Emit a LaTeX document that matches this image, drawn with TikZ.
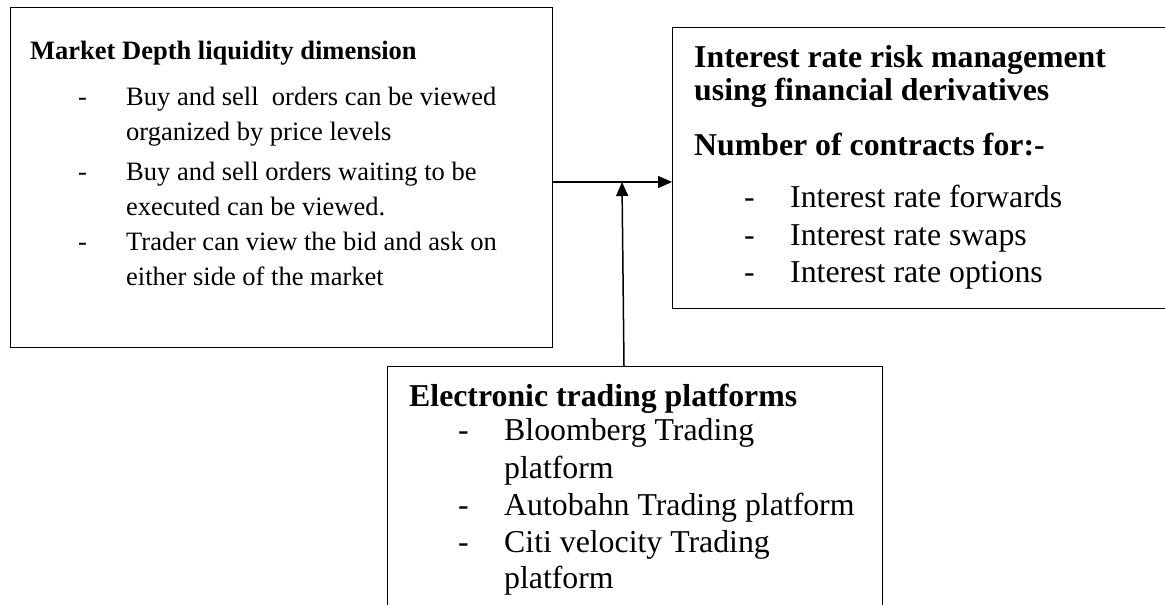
\documentclass[tikz,border=0pt]{standalone}
\usepackage{fontspec}
\setmainfont{Liberation Serif}
\usetikzlibrary{arrows.meta}
\newcommand\fsDepth{\fontsize{26.5}{31}\selectfont}
\newcommand\fsWide{\fontsize{31.8}{37}\selectfont}
\begin{document}
\begin{tikzpicture}[x=1pt,y=-1pt,
  panel/.style={draw=black, line width=1.3pt, inner sep=0pt, anchor=north west},
  txt/.style={inner sep=0pt, anchor=base west},
  dtxt/.style={txt, font=\fsDepth},
  wtxt/.style={txt, font=\fsWide},
  link/.style={draw=black, line width=1.5pt, -{Triangle[length=14pt,width=12pt]}}
]
\useasboundingbox (0,0) rectangle (1165,605);
\fill[white] (0,0) rectangle (1165,605);
\clip (0,0) rectangle (1165,605);

% boxes
\node[panel, minimum width=542pt, minimum height=340pt] (depth) at (10,7) {};
\node[panel, minimum width=520pt, minimum height=281pt] (risk) at (672,27) {};
\node[panel, minimum width=495pt, minimum height=270pt] (platforms) at (387,366) {};

% market depth box
\node[dtxt, font=\fsDepth\bfseries] (dT) at (30,59) {Market Depth liquidity dimension};
\node[dtxt] (dD1) at (78,105) {-};
\node[dtxt] (d1a) at (126,105) {Buy and sell \ orders can be viewed};
\node[dtxt] (d1b) at (126,140) {organized by price levels};
\node[dtxt] (dD2) at (78,180) {-};
\node[dtxt] (d2a) at (126,180) {Buy and sell orders waiting to be};
\node[dtxt] (d2b) at (126,215) {executed can be viewed.};
\node[dtxt] (dD3) at (78,250) {-};
\node[dtxt] (d3a) at (126,250) {Trader can view the bid and ask on};
\node[dtxt] (d3b) at (126,285) {either side of the market};

% risk management box
\node[wtxt, font=\fsWide\bfseries] (rT1) at (694,67) {Interest rate risk management};
\node[wtxt, font=\fsWide\bfseries] (rT2) at (694,100) {using financial derivatives};
\node[wtxt, font=\fsWide\bfseries] (rT3) at (694,155) {Number of contracts for:-};
\node[wtxt] (rD1) at (744,207) {-};
\node[wtxt] (r1) at (790,207) {Interest rate forwards};
\node[wtxt] (rD2) at (744,245) {-};
\node[wtxt] (r2) at (790,245) {Interest rate swaps};
\node[wtxt] (rD3) at (744,282) {-};
\node[wtxt] (r3) at (790,282) {Interest rate options};

% trading platforms box
\node[wtxt, font=\fsWide\bfseries] (pT) at (409,406) {Electronic trading platforms};
\node[wtxt] (pD1) at (458,440) {-};
\node[wtxt] (p1a) at (504,440) {Bloomberg Trading};
\node[wtxt] (p1b) at (504,478) {platform};
\node[wtxt] (pD2) at (458,515) {-};
\node[wtxt] (p2) at (504,515) {Autobahn Trading platform};
\node[wtxt] (pD3) at (458,552) {-};
\node[wtxt] (p3a) at (504,552) {Citi velocity Trading};
\node[wtxt] (p3b) at (504,588) {platform};

% connectors
\coordinate (join) at (622,182);
\draw[link] (depth.east |- join) -- (risk.west |- join);
\draw[link] (platforms.north -| 624,0) -- (join);
\end{tikzpicture}
\end{document}
